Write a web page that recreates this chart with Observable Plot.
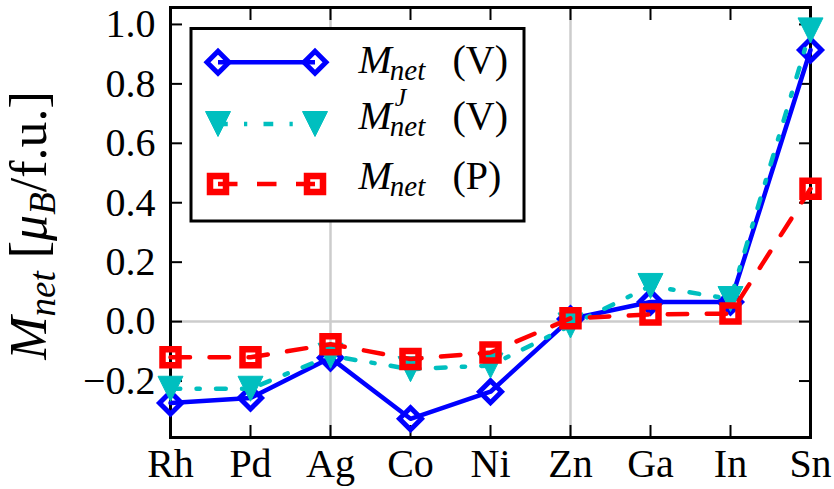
<!DOCTYPE html>
<html>
<head>
<meta charset="utf-8">
<script src="https://cdn.jsdelivr.net/npm/d3@7"></script>
<script src="https://cdn.jsdelivr.net/npm/@observablehq/plot@0.6"></script>
<style>
  body { margin: 0; background: #fff; }
</style>
</head>
<body>
<div id="chart"></div>
<script>
// Substituent elements along the x axis
const elements = ["Rh", "Pd", "Ag", "Co", "Ni", "Zn", "Ga", "In", "Sn"];

// Net magnetic moment per formula unit (muB / f.u.)
const mNetV  = [-0.274, -0.257, -0.122, -0.327, -0.236, 0.009, 0.066, 0.066, 0.914];
const mNetJV = [-0.226, -0.226, -0.115, -0.160, -0.148, -0.013, 0.120, 0.076, 0.980];
const mNetP  = [-0.120, -0.120, -0.076, -0.126, -0.104, 0.011, 0.024, 0.027, 0.447];

// Axis ticks and reference lines
const yTicks = [-0.2, 0.0, 0.2, 0.4, 0.6, 0.8, 1.0];
const refElements = ["Ag", "Zn"];
const refValues = [0];

// Legend entries
const legendTags = ["(V)", "(V)", "(P)"];
const legendSup = [null, "J", null];

const FONT = "Liberation Serif";
const ML = 170, MT = 7;

// matplotlib-like markers: r is derived from the symbol size Plot passes in
const diamond = {
  draw(ctx, size) {
    const r = Math.sqrt(size / Math.PI);
    ctx.moveTo(0, -r); ctx.lineTo(r, 0); ctx.lineTo(0, r); ctx.lineTo(-r, 0); ctx.closePath();
  }
};
const triangleDown = {
  draw(ctx, size) {
    const r = Math.sqrt(size / Math.PI);
    ctx.moveTo(-r, -r); ctx.lineTo(r, -r); ctx.lineTo(0, r); ctx.closePath();
  }
};
const square = {
  draw(ctx, size) {
    const r = Math.sqrt(size / Math.PI);
    ctx.moveTo(-r, -r); ctx.lineTo(r, -r); ctx.lineTo(r, r); ctx.lineTo(-r, r); ctx.closePath();
  }
};

const series = [
  {values: mNetV,  color: "#0000ff", dash: null,                     symbol: diamond,      r: 11,   fill: "none",    markerStroke: 5},
  {values: mNetJV, color: "#00bfbf", dash: "9.75,16.25,3.25,16.25",  symbol: triangleDown, r: 12.5, fill: "#00bfbf", markerStroke: 1},
  {values: mNetP,  color: "#ff0000", dash: "19.5,19.5",              symbol: square,       r: 8,    fill: "none",    markerStroke: 6.5}
];

const seriesMarks = series.flatMap(s => {
  const rows = elements.map((e, i) => ({element: e, value: s.values[i]}));
  return [
    Plot.line(rows, {x: "element", y: "value", stroke: s.color, strokeWidth: 4.5,
                     strokeDasharray: s.dash ?? undefined, strokeLinejoin: "round"}),
    Plot.dot(rows, {x: "element", y: "value", symbol: s.symbol, r: s.r,
                    fill: s.fill, stroke: s.color, strokeWidth: s.markerStroke,
                    strokeLinejoin: "miter"})
  ];
});

// A text piece placed at a pixel position (baseline at y)
function piece(t, x, y, size, italic, rotate = 0) {
  return Plot.text([t], {
    frameAnchor: "top-left", dx: x - ML, dy: y - MT,
    textAnchor: "start", lineAnchor: "bottom", rotate,
    fontFamily: FONT, fontSize: size, fontStyle: italic ? "italic" : "normal", fill: "#000"
  });
}

const measure = document.createElement("canvas").getContext("2d");
function textWidth(t, size, italic) {
  measure.font = `${italic ? "italic " : ""}${size}px ${FONT}`;
  return measure.measureText(t).width;
}

// y-axis title: M_net [mu_B/f.u.], read bottom to top
const yParts = [
  {t: "M", size: 52, italic: true, shift: 0},
  {t: "net", size: 37, italic: true, shift: 9},
  {t: " [", size: 52, italic: false, shift: 0},
  {t: "\u03bc", size: 52, italic: true, shift: 0},
  {t: "B", size: 37, italic: true, shift: 9},
  {t: "/f.u.]", size: 52, italic: false, shift: 0}
];
yParts.forEach(p => { p.w = textWidth(p.t, p.size, p.italic); });
const yTotal = d3.sum(yParts, p => p.w);
let yPos = 225 + yTotal / 2;
const yLabelMarks = yParts.map(p => {
  const m = piece(p.t, 45 + p.shift, yPos, p.size, p.italic, -90);
  yPos -= p.w;
  return m;
});

// Legend text pieces
const legendRowY = [62.3, 124, 184];
const legendBase = [72, 128, 188];
const subX = 358 + textWidth("M", 40, true) - 2;
const legendTextMarks = legendBase.flatMap((b, i) => [
  piece("M", 358, b, 40, true),
  piece("net", subX, b + 7, 29, true),
  ...(legendSup[i] ? [piece(legendSup[i], subX + 5, b - 23, 26, true)] : []),
  piece(legendTags[i], 452, b, 40, false)
]);

const fmt = d3.format(".1f");

const chart = Plot.plot({
  width: 834,
  height: 489,
  marginLeft: ML,
  marginRight: 24,
  marginTop: MT,
  marginBottom: 52,
  style: {fontSize: "40px", background: "#fff", color: "#000", overflow: "visible"},
  x: {type: "point", domain: elements, padding: 0, label: null},
  y: {domain: [-0.39, 1.057], label: null},
  marks: [
    Plot.ruleX(refElements, {stroke: "#cccccc", strokeWidth: 2.5}),
    Plot.ruleY(refValues, {stroke: "#cccccc", strokeWidth: 2.5}),
    Plot.frame({stroke: "#000", strokeWidth: 3}),
    Plot.axisX({anchor: "bottom", tickSize: -12, tickPadding: 23, strokeWidth: 2,
                fontFamily: FONT, label: null}),
    Plot.axisX({anchor: "top", tickSize: -12, strokeWidth: 2, fill: "none",
                fontFamily: FONT, label: null}),
    Plot.axisY(yTicks, {anchor: "left", tickSize: -12, tickPadding: 27, strokeWidth: 2,
                        fontFamily: FONT, tickFormat: fmt, label: null}),
    Plot.axisY(yTicks, {anchor: "right", tickSize: -12, strokeWidth: 2, fill: "none",
                        fontFamily: FONT, label: null}),
    ...seriesMarks,
    ...yLabelMarks,
    ...legendTextMarks
  ]
});

document.getElementById("chart").appendChild(chart);

// Legend box, sample lines and markers, placed beneath the legend text
const legend = d3.create("svg:g");
legend.append("rect")
  .attr("x", 191).attr("y", 28.5).attr("width", 333).attr("height", 192.5)
  .attr("fill", "#fff").attr("stroke", "#000").attr("stroke-width", 3);

const x0 = 218, x1 = 315;
series.forEach((s, i) => {
  const y = legendRowY[i];
  legend.append("line")
    .attr("x1", x0).attr("x2", x1).attr("y1", y).attr("y2", y)
    .attr("stroke", s.color).attr("stroke-width", 4.5)
    .attr("stroke-dasharray", s.dash);
  for (const cx of [x0, x1]) {
    const p = d3.path();
    s.symbol.draw(p, Math.PI * s.r * s.r);
    legend.append("path")
      .attr("transform", `translate(${cx},${y})`)
      .attr("d", p.toString())
      .attr("fill", s.fill).attr("stroke", s.color)
      .attr("stroke-width", s.markerStroke).attr("stroke-linejoin", "miter");
  }
});
const kids = chart.children;
chart.insertBefore(legend.node(), kids[kids.length - legendTextMarks.length]);
</script>
</body>
</html>
